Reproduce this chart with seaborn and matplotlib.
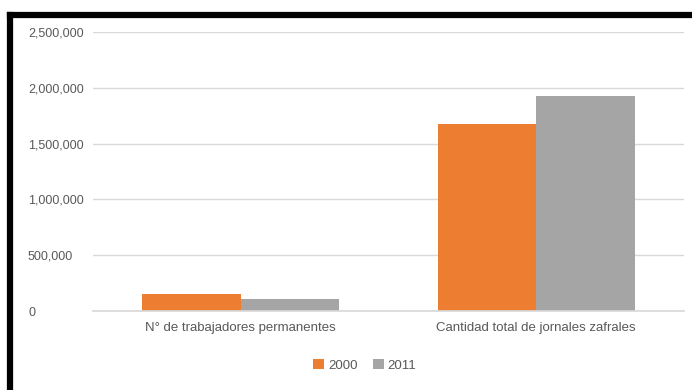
import matplotlib
matplotlib.use("Agg")
import matplotlib.pyplot as plt
import seaborn as sns
import pandas as pd
from matplotlib.lines import Line2D
from matplotlib.ticker import FuncFormatter

categories = ["N° de trabajadores permanentes", "Cantidad total de jornales zafrales"]
years = ["2000", "2011"]
values_2000 = [152000, 1680000]
values_2011 = [111000, 1930000]
yticks = [0, 500000, 1000000, 1500000, 2000000, 2500000]

colors = {"2000": "#ED7D31", "2011": "#A5A5A5"}
text_color = "#595959"

df = pd.DataFrame({
    "categoria": categories * 2,
    "año": [years[0]] * 2 + [years[1]] * 2,
    "valor": values_2000 + values_2011,
})

sns.set_theme(style="white")
plt.rcParams["font.family"] = ["Liberation Sans", "DejaVu Sans"]

fig = plt.figure(figsize=(6.92, 3.90), dpi=100)
ax = fig.add_axes([93 / 692, 1 - 311 / 390, (684 - 93) / 692, (311 - 32) / 390])

sns.barplot(data=df, x="categoria", y="valor", hue="año", palette=colors,
            width=0.667, gap=0, ax=ax, legend=True, saturation=1, linewidth=0)

ax.set_ylim(0, 2500000)
ax.set_yticks(yticks)
ax.yaxis.set_major_formatter(FuncFormatter(lambda v, p: "0" if v == 0 else f"{int(v):,}"))
ax.grid(axis="y", color="#D9D9D9", linewidth=1)
ax.set_axisbelow(True)
for s in ["top", "right", "left"]:
    ax.spines[s].set_visible(False)
ax.spines["bottom"].set_color("#D9D9D9")
ax.set_xlabel("")
ax.set_ylabel("")
ax.tick_params(axis="both", length=0, labelsize=9.5, labelcolor=text_color)
ax.tick_params(axis="y", labelsize=9)
ax.tick_params(axis="x", pad=8)
# left-aligned y tick labels starting near the frame
ax.tick_params(axis="y", pad=(93 - 28) * 0.72)
for lbl in ax.get_yticklabels():
    lbl.set_horizontalalignment("left")

handles, labels = ax.get_legend_handles_labels()
ax.legend(handles, labels, loc="center", bbox_to_anchor=(0.46, -0.195), ncol=2,
          frameon=False, fontsize=9.5, labelcolor=text_color, handlelength=0.8,
          handleheight=0.8, handletextpad=0.3, columnspacing=1.2)

# frame lines on left and top
fig.add_artist(Line2D([10 / 692, 10 / 692], [0, 1 - 15 / 390], color="black", linewidth=4.5,
                      transform=fig.transFigure, solid_capstyle="projecting"))
fig.add_artist(Line2D([10 / 692, 1.0], [1 - 15 / 390, 1 - 15 / 390], color="black", linewidth=4.5,
                      transform=fig.transFigure, solid_capstyle="projecting"))

fig.savefig("out.png", dpi=100)
